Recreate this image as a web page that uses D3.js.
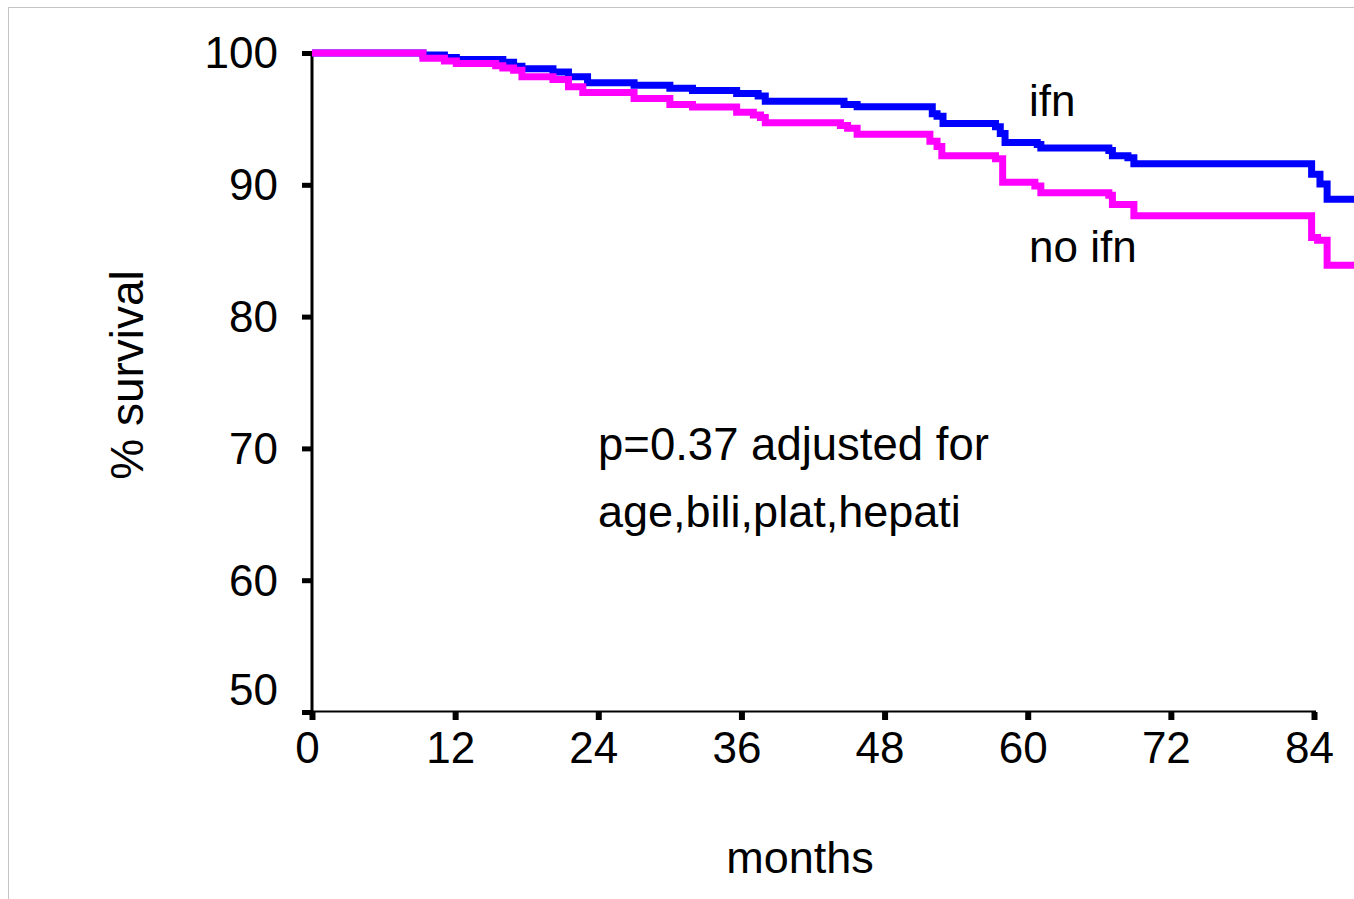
<!DOCTYPE html>
<html>
<head>
<meta charset="utf-8">
<script src="https://cdn.jsdelivr.net/npm/d3@7"></script>
<style>
  html, body { margin: 0; padding: 0; background: #fff; }
  svg { display: block; }
  text { font-family: "Liberation Sans", Arial, sans-serif; fill: #000; }
</style>
</head>
<body>
<div id="chart"></div>
<script>
// survival curves (months, % survival)
var ifnMonths = [0, 9.3, 11.1, 12.1, 16.0, 16.9, 17.6, 20.2, 21.5, 23.1,
    27.0, 30.0, 31.9, 35.6, 37.4, 38.0, 44.6, 45.7, 52.0, 52.4,
    52.9, 57.3, 57.7, 58.1, 60.8, 61.1, 66.8, 67.1, 68.4, 68.9,
    83.8, 84.5, 85.1, 87.5];
var ifnSurv = [100, 99.85, 99.66, 99.5, 99.3, 99.0, 98.8, 98.56, 98.2, 97.75,
    97.56, 97.33, 97.15, 96.93, 96.74, 96.34, 96.1, 95.92, 95.4, 95.2,
    94.66, 94.4, 93.9, 93.2, 93.06, 92.8, 92.6, 92.2, 92.05, 91.6,
    90.8, 90.06, 88.9, 88.9];

var noIfnMonths = [0, 9.3, 11.1, 12.1, 15.4, 16.0, 16.9, 17.6, 20.2, 21.5,
    22.7, 27.0, 30.0, 31.9, 35.6, 37.0, 37.6, 38.0, 44.3, 44.9,
    45.7, 51.8, 52.4, 52.8, 57.3, 57.9, 60.6, 61.1, 66.8, 67.1,
    68.9, 83.8, 84.3, 85.1, 87.5];
var noIfnSurv = [100, 99.6, 99.4, 99.2, 99.04, 98.86, 98.7, 98.2, 97.98, 97.44,
    97.0, 96.55, 96.1, 95.9, 95.5, 95.3, 95.1, 94.7, 94.5, 94.3,
    93.84, 93.3, 92.9, 92.2, 91.97, 90.2, 89.9, 89.4, 89.2, 88.5,
    87.65, 86.0, 85.8, 83.9, 83.9];

var xTicks = [0, 12, 24, 36, 48, 60, 72, 84];
var yTicks = [50, 60, 70, 80, 90, 100];

var width = 1354, height = 899;

var svg = d3.select('#chart').append('svg')
    .attr('width', width).attr('height', height);

// light frame around the picture
svg.append('rect')
    .attr('x', 8.5).attr('y', 7.5)
    .attr('width', width + 20).attr('height', height + 20)
    .attr('fill', 'none').attr('stroke', '#c4c4c4').attr('stroke-width', 1);

var x = d3.scaleLinear().domain([0, 84]).range([312, 1314]);
var y = d3.scaleLinear().domain([50, 100]).range([712, 53]);

// y axis
var yAxis = svg.append('g')
    .attr('transform', 'translate(' + x(0) + ',0)')
    .call(d3.axisLeft(y).tickValues(yTicks).tickSize(10).tickPadding(24));
yAxis.select('.domain').remove();
yAxis.selectAll('.tick line').attr('stroke', '#000').attr('stroke-width', 5);
yAxis.selectAll('.tick text')
    .attr('font-size', 44)
    .attr('font-family', '"Liberation Sans", Arial, sans-serif')
    .attr('dy', '0.34em')
    // the bottom label sits a bit above its tick in the original
    .attr('transform', function(d) { return d === 50 ? 'translate(0,-22)' : null; });

// x axis
var xAxis = svg.append('g')
    .attr('transform', 'translate(0,' + y(50) + ')')
    .call(d3.axisBottom(x).tickValues(xTicks).tickSize(8).tickPadding(12));
xAxis.select('.domain').remove();
xAxis.selectAll('.tick line').attr('stroke', '#000').attr('stroke-width', 6);
xAxis.selectAll('.tick text')
    .attr('font-size', 44)
    .attr('font-family', '"Liberation Sans", Arial, sans-serif')
    .attr('dx', '-5');

// axis lines
svg.append('line')
    .attr('x1', x(0)).attr('x2', x(0))
    .attr('y1', y(100) - 1).attr('y2', y(50) + 1)
    .attr('stroke', '#000').attr('stroke-width', 3);
svg.append('line')
    .attr('x1', x(0)).attr('x2', x(84) + 2)
    .attr('y1', y(50) - 0.5).attr('y2', y(50) - 0.5)
    .attr('stroke', '#000').attr('stroke-width', 2);

// curves
var line = d3.line()
    .x(function(d) { return x(d[0]); })
    .y(function(d) { return y(d[1]); })
    .curve(d3.curveStepAfter);

var ifnData = d3.zip(ifnMonths, ifnSurv);
var noIfnData = d3.zip(noIfnMonths, noIfnSurv);

svg.append('path')
    .datum(ifnData)
    .attr('d', line)
    .attr('fill', 'none')
    .attr('stroke', '#0000ff')
    .attr('stroke-width', 7);

svg.append('path')
    .datum(noIfnData)
    .attr('d', line)
    .attr('fill', 'none')
    .attr('stroke', '#ff00ff')
    .attr('stroke-width', 7);

// labels
svg.append('text')
    .attr('x', 1029).attr('y', 116)
    .attr('font-size', 44)
    .text('ifn');

svg.append('text')
    .attr('x', 1029).attr('y', 262)
    .attr('font-size', 44)
    .text('no ifn');

svg.append('text')
    .attr('x', 598).attr('y', 460)
    .attr('font-size', 45.5)
    .text('p=0.37 adjusted for');

svg.append('text')
    .attr('x', 598).attr('y', 527)
    .attr('font-size', 45)
    .text('age,bili,plat,hepati');

svg.append('text')
    .attr('x', 800).attr('y', 873)
    .attr('text-anchor', 'middle')
    .attr('font-size', 45)
    .text('months');

svg.append('text')
    .attr('transform', 'translate(143,375) rotate(-90)')
    .attr('text-anchor', 'middle')
    .attr('font-size', 46)
    .text('% survival');
</script>
</body>
</html>
